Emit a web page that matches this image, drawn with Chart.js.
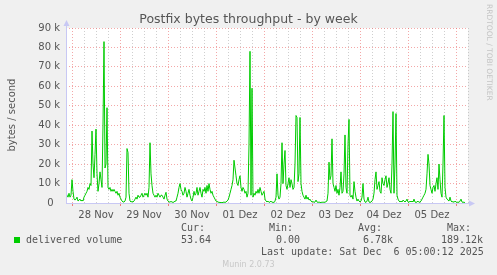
<!DOCTYPE html>
<html>
<head>
<meta charset="utf-8">
<script src="https://cdn.jsdelivr.net/npm/chart.js@4/dist/chart.umd.min.js"></script>
<style>
  html, body { margin: 0; padding: 0; background: #f0f0f0; }
  #wrap { position: relative; width: 497px; height: 275px; overflow: hidden; font-family: "DejaVu Sans", sans-serif; color: #555; }
  #chart { position: absolute; left: 0; top: 0; }
  .t { position: absolute; white-space: pre; line-height: 12px; }
  .mono { font-family: "DejaVu Sans Mono", monospace; font-size: 10px; }
  #title { left: 0; width: 497px; top: 12px; text-align: center; font-size: 12.5px; line-height: 14px; }
  #ylabel { left: 6px; top: 115px; font-size: 10px; transform-origin: 0 0; transform: translate(0, 0) rotate(-90deg) translate(-50%, 0); }
  #rrd { left: 485px; top: 4px; font-size: 7.5px; color: #c4c4c4; writing-mode: vertical-rl; line-height: 8px; }
  #swatch { position: absolute; left: 14px; top: 237px; width: 6px; height: 6px; background: #00cc00; }
  #munin { left: 0; width: 497px; text-align: center; top: 259px; font-size: 8px; color: #c8c8c8; }
</style>
</head>
<body>
<div id="wrap">
  <canvas id="chart" width="497" height="275"></canvas>
  <div class="t" id="title">Postfix bytes throughput - by week</div>
  <div class="t" id="ylabel">bytes / second</div>
  <div class="t" id="rrd">RRDTOOL / TOBI OETIKER</div>
  <div id="swatch"></div>
  <div class="t mono" style="left:26px;top:234px">delivered volume</div>
  <div class="t mono" style="left:181px;top:222px">Cur:</div>
  <div class="t mono" style="left:181px;top:234px">53.64</div>
  <div class="t mono" style="left:269px;top:222px">Min:</div>
  <div class="t mono" style="left:276px;top:234px">0.00</div>
  <div class="t mono" style="left:358px;top:222px">Avg:</div>
  <div class="t mono" style="left:363px;top:234px">6.78k</div>
  <div class="t mono" style="left:447px;top:222px">Max:</div>
  <div class="t mono" style="left:441px;top:234px">189.12k</div>
  <div class="t mono" style="left:261px;top:246px">Last update: Sat Dec  6 05:00:12 2025</div>
  <div class="t" id="munin">Munin 2.0.73</div>
</div>
<script>
// Time axis: hours since 28 Nov 00:00, one sample every half hour
const START_HOUR = -3;
const STEP_HOURS = 0.5;
const X_MIN = -3;
const X_MAX = 198;

// Day labels, placed at noon of each day
const dayLabels = ['28 Nov', '29 Nov', '30 Nov', '01 Dez', '02 Dez', '03 Dez', '04 Dez', '05 Dez'];

// Y axis ticks (thousands of bytes/s)
const yTicks = [0, 10, 20, 30, 40, 50, 60, 70, 80, 90];

// delivered volume, in k bytes/s
const volumeK = [
  5, 4, 3, 5, 3, 4, 12, 6, 2, 1.5, 2, 3, 1, 1.5, 2, 1, 1.5, 1, 3, 4, 5, 6, 8, 7,
  10, 9, 37, 20, 13, 25, 38, 15, 6, 10, 16, 12, 8, 40, 83, 18, 20, 49, 8, 7, 8, 6, 7, 6,
  7, 6, 5, 6, 4, 5, 3, 2, 1, 0.5, 0.5, 1, 3, 28, 26, 5, 1, 0.5, 0.8, 0.5, 1, 2, 3, 2,
  4, 3, 3, 4, 5, 3, 4, 5, 4, 5, 3, 8, 31, 15, 9, 5, 4, 3, 4, 3, 5, 4, 3, 4,
  4, 3, 2, 4, 5.5, 2, 1, 0.5, 0.5, 0.8, 0.5, 0.3, 0.5, 1, 1, 3, 5, 8, 10, 7, 6, 4, 5, 8,
  6, 3, 5, 7, 4, 2, 1, 3, 6, 4, 5, 8, 4, 6, 8, 5, 3, 7, 6, 8, 5, 9, 6, 10,
  7, 5, 6, 4, 3, 2, 1, 0.8, 0.5, 0.3, 0.3, 0.2, 0.2, 0.3, 0.5, 0.3, 0.5, 1, 1.5, 3, 5, 7, 9, 12,
  22, 18, 14, 10, 9, 12, 14, 8, 6, 8, 7, 5, 6, 3, 5, 30, 78, 4, 59, 3, 5, 4, 6, 5,
  7, 5, 8, 6, 4, 5, 6, 2, 1, 0.5, 1, 0.3, 0.5, 1, 0.3, 0.5, 0.2, 1, 3, 15, 4, 2, 3, 10,
  31, 10, 20, 27, 9, 7, 10, 13, 8, 12, 10, 7, 8, 20, 45, 44, 11, 15, 44, 10, 6, 4, 3, 2,
  4, 2, 3, 1.5, 2, 1, 0.5, 0.8, 0.3, 0.5, 1.5, 0.5, 0.3, 0.5, 0.3, 0.2, 0.5, 0.3, 0.5, 0.3, 0.8, 1, 5, 21,
  12, 14, 33, 10, 8, 6, 9, 5, 7, 4, 8, 16, 5, 6, 15, 35, 8, 5, 30, 43, 4, 3, 4, 2,
  11, 6, 3, 1, 2, 1, 0.5, 1, 3, 10, 2, 0.5, 0.3, 1, 3, 0.5, 0.3, 0.5, 1, 2, 5, 12, 16, 7,
  9, 11, 6, 5, 13, 10, 9, 12, 14, 8, 10, 13, 7, 5, 20, 47, 5, 20, 46, 4, 2, 1, 0.5, 1,
  0.5, 1.5, 1, 0.5, 1, 2, 0.5, 0.3, 1, 0.5, 1, 0.5, 2, 0.5, 0.3, 0.5, 1, 0.3, 0.5, 1, 2, 3, 4, 5,
  7, 15, 25, 20, 9, 7, 5, 8, 9, 6, 10, 13, 7, 20, 12, 5, 3, 20, 45, 8, 3, 2, 1.5, 1,
  3, 1, 0.5, 0.8, 0.3, 1, 0.5, 0.3, 0.5, 0.3, 1, 2, 0.5, 0.3, 0.5, 0.1
];

const MAJOR = 'rgba(235,110,110,0.6)';
const MINOR = 'rgba(160,160,160,0.5)';
const AXIS = '#c8c8f4';

const points = volumeK.map((v, i) => ({ x: START_HOUR + i * STEP_HOURS, y: v }));

// white plot area + axis arrows like rrdtool
const frame = {
  id: 'frame',
  beforeDraw(chart) {
    const { ctx, chartArea: a } = chart;
    ctx.save();
    ctx.fillStyle = '#ffffff';
    ctx.fillRect(a.left, a.top, a.right - a.left, a.bottom - a.top);
    ctx.restore();
  },
  afterDraw(chart) {
    const { ctx, chartArea: a } = chart;
    ctx.save();
    ctx.strokeStyle = AXIS;
    ctx.fillStyle = AXIS;
    ctx.lineWidth = 1;
    ctx.beginPath();
    ctx.moveTo(a.left + 0.5, a.bottom);
    ctx.lineTo(a.left + 0.5, a.top - 4);
    ctx.moveTo(a.left, a.bottom + 0.5);
    ctx.lineTo(a.right + 3, a.bottom + 0.5);
    ctx.stroke();
    ctx.beginPath();
    ctx.moveTo(a.left + 0.5, a.top - 8);
    ctx.lineTo(a.left - 2.5, a.top - 2);
    ctx.lineTo(a.left + 3.5, a.top - 2);
    ctx.fill();
    ctx.beginPath();
    ctx.moveTo(a.right + 7, a.bottom + 0.5);
    ctx.lineTo(a.right + 1, a.bottom - 2.5);
    ctx.lineTo(a.right + 1, a.bottom + 3.5);
    ctx.fill();
    ctx.restore();
  }
};

new Chart(document.getElementById('chart'), {
  type: 'line',
  data: {
    datasets: [{
      label: 'delivered volume',
      data: points,
      borderColor: '#00cc00',
      borderWidth: 1,
      pointRadius: 0,
      tension: 0,
      fill: false
    }]
  },
  options: {
    responsive: false,
    animation: false,
    devicePixelRatio: 1,
    layout: { padding: { left: 0, top: 28, right: 29, bottom: 0 } },
    plugins: { legend: { display: false }, tooltip: { enabled: false } },
    scales: {
      x: {
        type: 'linear',
        min: X_MIN,
        max: X_MAX,
        afterBuildTicks: (scale) => {
          const ticks = [];
          for (let h = 0; h <= X_MAX; h += 6) ticks.push({ value: h });
          scale.ticks = ticks;
        },
        afterFit: (scale) => { scale.height = 72; },
        ticks: {
          autoSkip: false,
          maxRotation: 0,
          padding: 3,
          color: '#555',
          font: { family: 'DejaVu Sans', size: 10 },
          callback: (v) => (v % 24 === 12 ? dayLabels[(v - 12) / 24] || '' : '')
        },
        grid: {
          color: (c) => (c.tick && c.tick.value % 24 === 0 ? MAJOR : MINOR),
          tickColor: (c) => (c.tick && c.tick.value % 24 === 0 ? 'rgba(235,110,110,0.9)' : 'rgba(0,0,0,0)'),
          tickLength: 3,
          lineWidth: 1
        },
        border: { display: false, dash: [1, 2] }
      },
      y: {
        min: 0,
        max: 90,
        afterBuildTicks: (scale) => {
          const ticks = [];
          for (let v = 0; v <= 90; v += 5) ticks.push({ value: v });
          scale.ticks = ticks;
        },
        afterFit: (scale) => { scale.width = 66; },
        ticks: {
          padding: 6,
          color: '#555',
          font: { family: 'DejaVu Sans', size: 10 },
          callback: (v) => {
            if (!yTicks.includes(v)) return '';
            return v === 0 ? '0  ' : v + ' k';
          }
        },
        grid: {
          color: (c) => (c.tick && c.tick.value % 10 === 0 ? MAJOR : MINOR),
          drawTicks: false,
          lineWidth: 1
        },
        border: { display: false, dash: [1, 2] }
      }
    }
  },
  plugins: [frame]
});
</script>
</body>
</html>
